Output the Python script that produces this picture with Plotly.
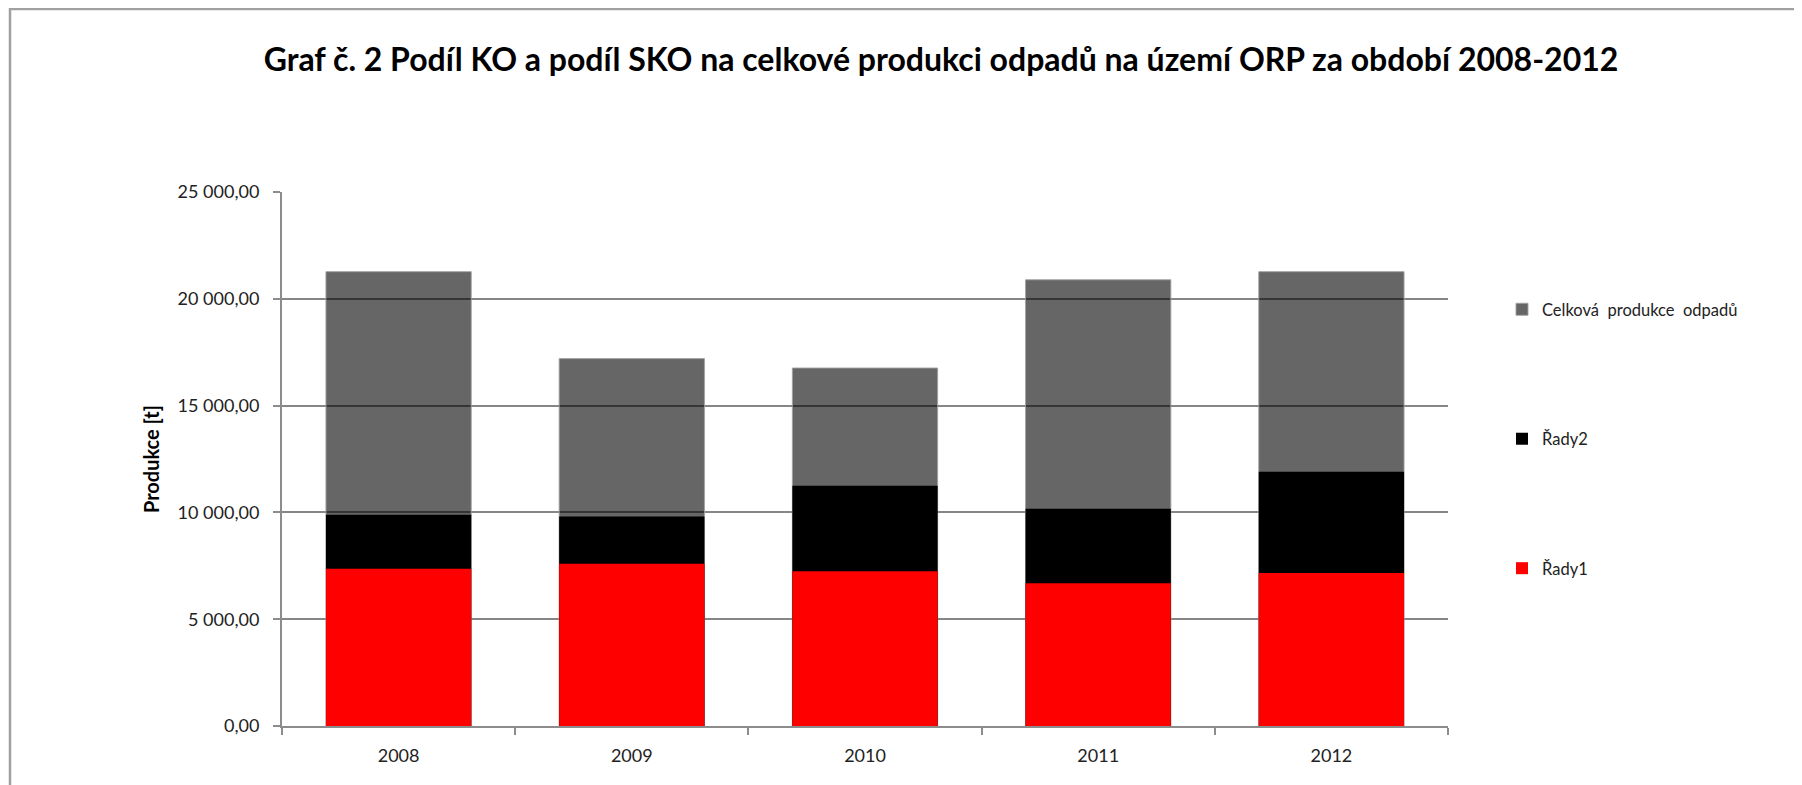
import plotly.graph_objects as go

years = ["2008", "2009", "2010", "2011", "2012"]
celkova = [21270, 17200, 16760, 20890, 21270]
rady2 = [9890, 9810, 11250, 10170, 11900]
rady1 = [7360, 7600, 7240, 6680, 7160]

FONT = "Lato"

# figure is drawn with an 8px page offset; coordinates below are figure coordinates
L, R, T, B = 274, 1440, 184, 717.7
W, H = 1802, 785
PW, PH = R - L, B - T

fig = go.Figure()
fig.add_trace(go.Bar(x=years, y=celkova, name="Celková  produkce  odpadů",
                     marker=dict(color="rgba(0,0,0,0.6)", line=dict(color="rgba(160,160,160,0.9)", width=1)),
                     legendgroup="a"))
fig.add_trace(go.Bar(x=years, y=rady2, name="Řady2",
                     marker=dict(color="#000000", line=dict(width=0)), legendgroup="b"))
fig.add_trace(go.Bar(x=years, y=rady1, name="Řady1",
                     marker=dict(color="#FF0000", line=dict(width=0)), legendgroup="c"))

fig.update_layout(
    width=W, height=H,
    barmode="overlay", bargap=0.377,
    plot_bgcolor="white", paper_bgcolor="white",
    separators=", ",
    font=dict(family=FONT, color="#222222", size=18),
    margin=dict(l=L, r=W - R, t=T, b=H - B, autoexpand=False),
    title=dict(text="<b>Graf č. 2 Podíl KO a podíl SKO na celkové produkci odpadů na území ORP za období 2008-2012</b>",
               x=933 / W, xanchor="center", y=1 - 52 / H, yanchor="middle",
               font=dict(family=FONT, size=32, color="#000000")),
    legend=dict(x=(1494 - L) / PW, xanchor="left", y=1 - (284 - T) / PH, yanchor="top",
                traceorder="grouped", tracegroupgap=105,
                font=dict(family=FONT, size=16.5, color="#222222"),
                bgcolor="rgba(0,0,0,0)"),
    showlegend=True,
)
fig.update_xaxes(showline=True, linecolor="#8c8c8c", linewidth=2,
                 ticks="outside", tickson="boundaries", ticklen=7, tickcolor="#8c8c8c", tickwidth=1.5,
                 ticklabelstandoff=12,
                 showgrid=False, tickfont=dict(size=18, family=FONT, color="#222222"))
fig.update_yaxes(range=[0, 25000], dtick=5000, tickformat=",.2f",
                 showline=True, linecolor="#8c8c8c", linewidth=2,
                 ticks="outside", ticklen=7, tickcolor="#8c8c8c", tickwidth=1.5,
                 ticklabelstandoff=10,
                 showgrid=True, gridcolor="#868686", gridwidth=1.5,
                 zeroline=False,
                 tickfont=dict(size=18, family=FONT, color="#222222"),
                 title=dict(text="<b>Produkce [t]</b>", standoff=13,
                            font=dict(size=20, family=FONT, color="#000000")))

# chart-area border (partially visible, as in the reference)
fig.add_shape(type="rect", xref="paper", yref="paper",
              x0=(2 - L) / PW, x1=(1830 - L) / PW,
              y0=-(800 - B) / PH, y1=(B - 1) / PH,
              line=dict(color="#a0a0a0", width=2.5), fillcolor="rgba(0,0,0,0)", layer="below")

fig.write_html("out.html")
